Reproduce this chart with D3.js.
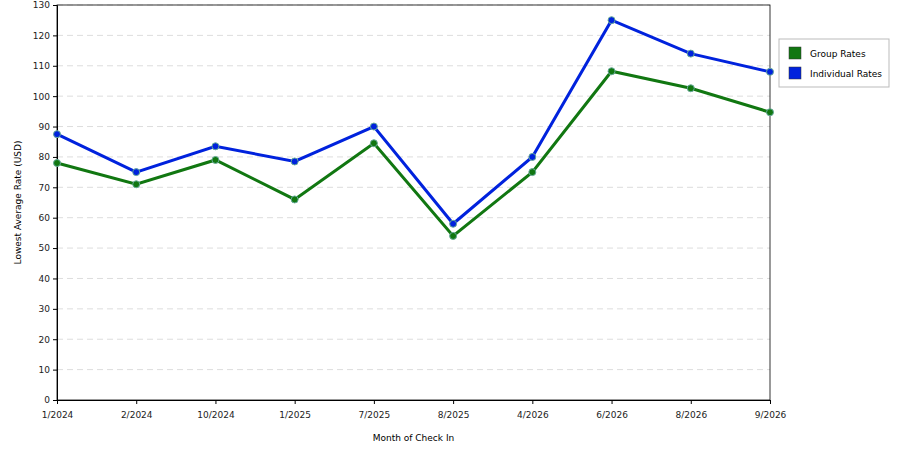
<!DOCTYPE html><html><head><meta charset="utf-8"><script src="https://cdn.jsdelivr.net/npm/d3@7"></script>
<style>body{margin:0;background:#fff}text{font-family:"DejaVu Sans",sans-serif}</style></head><body><svg id="c" width="900" height="450"></svg><script>
const categories=["1/2024","2/2024","10/2024","1/2025","7/2025","8/2025","4/2026","6/2026","8/2026","9/2026"];
const groupRates=[78,71,79,66,84.5,54,75,108.2,102.6,94.7];
const individualRates=[87.5,75,83.5,78.5,90,58,80,125,114,108];
const yTicks=d3.range(0,131,10);
const svg=d3.select("#c"),L=57,R=770,T=5,B=400;
const x=d3.scalePoint().domain(categories).range([L,R]);
const y=d3.scaleLinear().domain([0,130]).range([B,T]);
svg.append("g").selectAll("line").data(yTicks.slice(1)).join("line").attr("x1",L).attr("x2",R).attr("y1",d=>y(d)).attr("y2",d=>y(d)).attr("stroke","#ddd").attr("stroke-dasharray","6,4");
svg.append("rect").attr("x",L).attr("y",T).attr("width",R-L).attr("height",B-T).attr("fill","none").attr("stroke","#000").attr("stroke-width",0.8);
const ya=svg.append("g").attr("transform",`translate(${L},0)`).call(d3.axisLeft(y).tickValues(yTicks).tickSize(4));
const xa=svg.append("g").attr("transform",`translate(0,${B})`).call(d3.axisBottom(x).tickSize(4));
[ya,xa].forEach(a=>{a.selectAll("text").attr("font-size",9).attr("fill","#222");a.select(".domain").attr("stroke","#000")});
xa.selectAll("text").attr("dy","1.2em");
svg.append("text").attr("x",(L+R)/2).attr("y",441).attr("text-anchor","middle").attr("font-size",9).text("Month of Check In");
svg.append("text").attr("transform",`translate(21,${(T+B)/2}) rotate(-90)`).attr("text-anchor","middle").attr("font-size",9).text("Lowest Average Rate (USD)");
const series=[["Group Rates",groupRates,"#117711"],["Individual Rates",individualRates,"#0022dd"]];
series.forEach(([n,v,c])=>{
svg.append("path").datum(v).attr("fill","none").attr("stroke",c).attr("stroke-width",3).attr("d",d3.line().x((d,i)=>x(categories[i])).y(d=>y(d)));
svg.append("g").selectAll("circle").data(v).join("circle").attr("cx",(d,i)=>x(categories[i])).attr("cy",d=>y(d)).attr("r",3.5).attr("fill",c).attr("stroke","#6a9").attr("stroke-width",1);
});
const lg=svg.append("g");
lg.append("rect").attr("x",779).attr("y",39).attr("width",110).attr("height",48).attr("fill","#fff").attr("stroke","#bbb");
series.forEach(([n,v,c],i)=>{
lg.append("rect").attr("x",789).attr("y",47+i*20).attr("width",12).attr("height",12).attr("fill",c).attr("stroke","#333").attr("stroke-width",0.5);
lg.append("text").attr("x",810).attr("y",57+i*20).attr("font-size",9).text(n);
});
</script></body></html>
